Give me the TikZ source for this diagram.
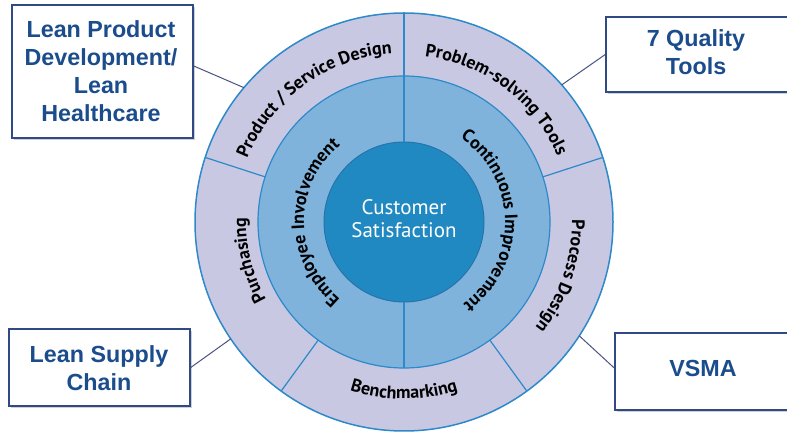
\documentclass[tikz,border=0pt]{standalone}
\usepackage{fontspec}
\setmainfont{Liberation Sans}
\newfontfamily\ringfont{PT Sans}
\usetikzlibrary{decorations.text,shadows,calc}

\definecolor{outerfill}{HTML}{C8C8E2}
\definecolor{midfill}{HTML}{7FB3DC}
\definecolor{innerfill}{HTML}{2189C1}
\definecolor{ringline}{HTML}{2D89C9}
\definecolor{boxline}{HTML}{2F4A85}
\definecolor{boxtextcol}{HTML}{1B4C8C}
\definecolor{conncol}{HTML}{4A5282}

\tikzset{
  ringcircle/.style={circle, inner sep=0pt, outer sep=0pt, draw=ringline},
  divider/.style={draw=ringline, line width=1.2pt},
  ringtext/.style={decorate, decoration={text along path, text align=center,
      text={|\ringfont\bfseries\fontsize{18}{18}\selectfont|#1}}},
  midtext/.style={decorate, decoration={text along path, text align=center,
      text={|\ringfont\bfseries\fontsize{18}{18}\selectfont|#1}}},
  boxstyle/.style={draw=boxline, line width=1.5pt, fill=white, inner sep=0pt,
      drop shadow={shadow xshift=2pt, shadow yshift=-2.5pt, opacity=0.3, fill=black!60}},
  boxlabel/.style={text=boxtextcol, font=\bfseries\fontsize{23.3}{28}\selectfont, align=center, inner sep=0pt},
  connector/.style={draw=conncol, line width=1pt}
}

\begin{document}
\begin{tikzpicture}[x=1pt,y=1pt]
\useasboundingbox (0,0) rectangle (787,433);
\coordinate (c) at (404,211);

% rings
\node[ringcircle, fill=outerfill, line width=1.5pt, minimum size=418pt] (outer) at (c) {};
\node[ringcircle, fill=midfill, line width=1.2pt, minimum size=292pt] (middle) at (c) {};
\node[ringcircle, fill=innerfill, draw=ringline!85!black, line width=1pt, minimum size=160pt] (inner) at (c) {};

% dividers
\foreach \a in {90,18,-54,-126,162} \draw[divider] (middle.\a) -- (outer.\a);
\draw[divider] (inner.90) -- (middle.90);
\draw[divider] (inner.270) -- (middle.270);

% outer ring labels
\path[ringtext={Product / Service Design}] ($(c)+(176:169pt)$) arc[start angle=176, end angle=76, radius=169pt];
\path[ringtext={Problem-solving Tools}] ($(c)+(103:167pt)$) arc[start angle=103, end angle=3, radius=167pt];
\path[ringtext={Process Design}] ($(c)+(31:168pt)$) arc[start angle=31, end angle=-69, radius=168pt];
\path[ringtext={Benchmarking}] ($(c)+(220:177pt)$) arc[start angle=220, end angle=320, radius=177pt];
\path[ringtext={Purchasing}] ($(c)+(244:158pt)$) arc[start angle=244, end angle=144, radius=158pt];

% middle ring labels
\path[midtext={Employee Involvement}] ($(c)+(250:100pt)$) arc[start angle=250, end angle=110, radius=100pt];
\path[midtext={Continuous Improvement}] ($(c)+(71:101pt)$) arc[start angle=71, end angle=-69, radius=101pt];

% centre
\node[text=white, font=\ringfont\fontsize{21}{23}\selectfont, align=center] (cs) at (404,214) {Customer\\Satisfaction};

% boxes
\node[boxstyle, minimum width=181pt, minimum height=133pt] (box1) at (102.5,361.5) {};
\node[boxlabel] (t1) at (101,362) {Lean Product\\Development/\\Lean\\Healthcare};
\node[boxstyle, minimum width=194pt, minimum height=75pt] (box2) at (703,378.5) {};
\node[boxlabel] (t2) at (696,380.5) {7 Quality\\Tools};
\node[boxstyle, minimum width=181pt, minimum height=77pt] (box3) at (99.5,65.5) {};
\node[boxlabel] (t3) at (99,65) {Lean Supply\\Chain};
\node[boxstyle, minimum width=185pt, minimum height=77pt] (box4) at (707.5,61.5) {};
\node[boxlabel] (t4) at (703,64.5) {VSMA};

% connectors
\draw[connector] ([yshift=5.5pt]box1.east) -- (outer.140);
\draw[connector] (box2.west) -- (outer.41.5);
\draw[connector] (box3.east) -- (outer.-146);
\draw[connector] ([yshift=3.5pt]box4.west) -- (outer.-33);
\end{tikzpicture}
\end{document}
